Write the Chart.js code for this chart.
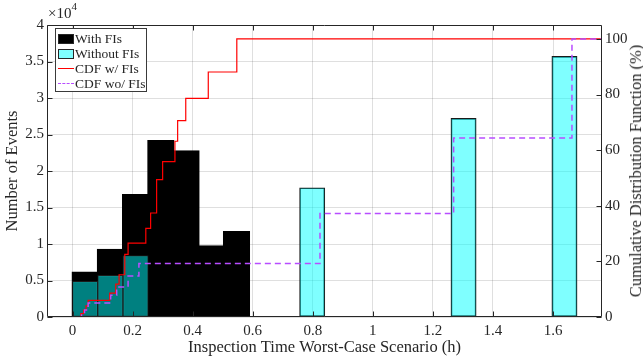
<!DOCTYPE html>
<html>
<head>
<meta charset="utf-8">
<script src="https://cdn.jsdelivr.net/npm/chart.js@4.4.1/dist/chart.umd.min.js"></script>
<style>
  html,body{margin:0;padding:0;background:#fff;overflow:hidden;}
  #wrap{position:relative;width:643px;height:362px;font-family:'Liberation Serif','Times New Roman',serif;color:#262626;}
  #c{position:absolute;left:0;top:0;}
  #exp{position:absolute;left:48px;top:6px;font-size:15px;line-height:15px;white-space:nowrap;}
  #exp sup{font-size:11px;position:relative;top:-2px;vertical-align:super;line-height:0;}
  #legend{position:absolute;left:55px;top:28px;width:90px;height:60px;border:1px solid #3a3a3a;background:#fff;padding-top:2px;box-sizing:content-box;}
  .row{position:relative;height:15px;font-size:13.5px;line-height:15px;white-space:nowrap;}
  .sw{position:absolute;left:2px;top:3px;width:14px;height:8px;}
  .ln{position:absolute;left:2px;top:7px;width:16px;height:0;}
  .tx{position:absolute;left:19px;top:0;}
  #rtitle{position:absolute;left:636px;top:171px;font-size:16.5px;white-space:nowrap;transform:translate(-50%,-50%) rotate(-90deg);}
</style>
</head>
<body>
<div id="wrap">
  <canvas id="c" width="643" height="362"></canvas>
  <div id="exp">×10<sup>4</sup></div>
  <div id="legend"></div>
  <div id="rtitle">Cumulative Distribution Function (%)</div>
</div>
<script>
// ---- data ----
const binWidth = 0.084;
const withFIsStarts = [0, 0.084, 0.168, 0.252, 0.336, 0.42, 0.504];
const withFIsCounts = [6100, 9200, 16700, 24100, 22700, 9700, 11650];
const withoutFIsStarts = [0, 0.084, 0.168, 0.756, 1.26, 1.596];
const withoutFIsCounts = [4900, 5700, 8400, 17700, 27200, 35700];

// CDF step positions (x where the curve jumps) and the level reached there (%)
const cdfWithX = [0.019, 0.028, 0.037, 0.045, 0.052, 0.124, 0.144, 0.155, 0.174, 0.185, 0.244, 0.26, 0.28, 0.30, 0.341, 0.35, 0.377, 0.452, 0.547, 1.763];
const cdfWithY = [0, 1.2, 2.5, 4, 6.0, 8.6, 11.8, 15.2, 22.5, 26.6, 31.9, 37.4, 49.4, 55.9, 63.2, 70.6, 78.6, 88.1, 100, 100];
const cdfWithoutX = [0.019, 0.03, 0.04, 0.052, 0.127, 0.147, 0.185, 0.221, 0.824, 1.269, 1.663, 1.763];
const cdfWithoutY = [0, 1, 2.5, 5.0, 7.8, 10.8, 14.7, 19.2, 37.2, 64.4, 100, 100];

const xTicks = [0, 0.2, 0.4, 0.6, 0.8, 1, 1.2, 1.4, 1.6];
const xTickLabels = ['0', '0.2', '0.4', '0.6', '0.8', '1', '1.2', '1.4', '1.6'];
const yTicks = [0, 5000, 10000, 15000, 20000, 25000, 30000, 35000, 40000];
const yTickLabels = ['0', '0.5', '1', '1.5', '2', '2.5', '3', '3.5', '4'];
const cdfTicks = [0, 20, 40, 60, 80, 100];
const cdfTickLabels = ['0', '20', '40', '60', '80', '100'];

const xRange = [-0.085, 1.763];
const yRange = [0, 40000];
const cdfRange = [0, 105];

// ---- styles ----
const AX = '#262626';
const GRID = 'rgba(38,38,38,0.15)';
const FONT = "'Liberation Serif','Times New Roman',serif";
Chart.defaults.font.family = FONT;
Chart.defaults.color = AX;

const datasets = [
  {
    type: 'bar', label: 'With FIs', order: 4, grouped: false,
    data: withFIsStarts.map((s, i) => ({x: s + binWidth / 2, y: withFIsCounts[i]})),
    backgroundColor: '#000000', borderColor: '#000000', borderWidth: 1, borderSkipped: false, inflateAmount: 1,
    barPercentage: 1, categoryPercentage: 1, xAxisID: 'x', yAxisID: 'y'
  },
  {
    type: 'bar', label: 'Without FIs', order: 3, grouped: false,
    data: withoutFIsStarts.map((s, i) => ({x: s + binWidth / 2, y: withoutFIsCounts[i]})),
    backgroundColor: 'rgba(0,255,255,0.5)', borderColor: '#1a1a1a', borderWidth: 1, borderSkipped: false,
    barPercentage: 1, categoryPercentage: 1, xAxisID: 'x', yAxisID: 'y'
  },
  {
    type: 'line', label: 'CDF w/ FIs', order: 2,
    data: cdfWithX.map((x, i) => ({x, y: cdfWithY[i]})),
    borderColor: '#ff0000', borderWidth: 1.2, pointRadius: 0, stepped: 'before', fill: false,
    xAxisID: 'x', yAxisID: 'y1'
  },
  {
    type: 'line', label: 'CDF wo/ FIs', order: 1,
    data: cdfWithoutX.map((x, i) => ({x, y: cdfWithoutY[i]})),
    borderColor: '#b84dff', borderWidth: 1.5, borderDash: [6, 4], pointRadius: 0, stepped: 'before', fill: false,
    xAxisID: 'x', yAxisID: 'y1'
  }
];

const frame = {
  id: 'frame',
  afterDatasetsDraw(chart) {
    const {ctx, chartArea: a, scales} = chart;
    const L = 5;
    ctx.save();
    ctx.strokeStyle = AX;
    ctx.lineWidth = 1;
    ctx.beginPath();
    ctx.rect(Math.round(a.left) + 0.5, Math.round(a.top) + 0.5, Math.round(a.right - a.left) - 1, Math.round(a.bottom - a.top) - 1);
    const bx = Math.round(a.bottom) - 0.5, tx = Math.round(a.top) + 0.5;
    const lx = Math.round(a.left) + 0.5, rx = Math.round(a.right) - 0.5;
    scales.x.ticks.forEach(t => {
      const p = Math.round(scales.x.getPixelForValue(t.value)) + 0.5;
      ctx.moveTo(p, bx); ctx.lineTo(p, bx - L);
      ctx.moveTo(p, tx); ctx.lineTo(p, tx + L);
    });
    scales.y.ticks.forEach(t => {
      const p = Math.round(scales.y.getPixelForValue(t.value)) + 0.5;
      ctx.moveTo(lx, p); ctx.lineTo(lx + L, p);
    });
    scales.y1.ticks.forEach(t => {
      const p = Math.round(scales.y1.getPixelForValue(t.value)) + 0.5;
      ctx.moveTo(rx, p); ctx.lineTo(rx - L, p);
    });
    ctx.stroke();
    ctx.restore();
  }
};

const chart = new Chart(document.getElementById('c'), {
  data: {datasets},
  options: {
    responsive: false, animation: false, devicePixelRatio: 1,
    layout: {padding: {top: 25, left: 0, right: 0, bottom: 0}},
    plugins: {legend: {display: false}, tooltip: {enabled: false}},
    scales: {
      x: {
        type: 'linear', position: 'bottom', min: xRange[0], max: xRange[1], offset: false,
        afterBuildTicks: s => { s.ticks = xTicks.map(v => ({value: v})); },
        afterFit: s => { s.height = 45; },
        ticks: {callback: (v) => xTickLabels[xTicks.indexOf(v)] ?? '', font: {size: 15}, padding: 5, maxRotation: 0, autoSkip: false},
        grid: {color: GRID, drawTicks: false, offset: false},
        border: {display: false},
        title: {display: true, text: 'Inspection Time Worst-Case Scenario (h)', font: {size: 16.5}, padding: {top: 0, bottom: 4}}
      },
      y: {
        type: 'linear', position: 'left', min: yRange[0], max: yRange[1],
        afterBuildTicks: s => { s.ticks = yTicks.map(v => ({value: v})); },
        afterFit: s => { s.width = 47; },
        ticks: {callback: (v) => yTickLabels[yTicks.indexOf(v)] ?? '', font: {size: 15}, padding: 3, autoSkip: false},
        grid: {color: GRID, drawTicks: false},
        border: {display: false},
        title: {display: true, text: 'Number of Events', font: {size: 16.5}, padding: {top: 3, bottom: 0}}
      },
      y1: {
        type: 'linear', position: 'right', min: cdfRange[0], max: cdfRange[1],
        afterBuildTicks: s => { s.ticks = cdfTicks.map(v => ({value: v})); },
        afterFit: s => { s.width = 41; },
        ticks: {callback: (v) => cdfTickLabels[cdfTicks.indexOf(v)] ?? '', font: {size: 15}, padding: 3, autoSkip: false},
        grid: {display: false, drawTicks: false},
        border: {display: false}
      }
    }
  },
  plugins: [frame]
});

// HTML legend built from the datasets
const leg = document.getElementById('legend');
[datasets[0], datasets[1], datasets[2], datasets[3]].forEach(ds => {
  const row = document.createElement('div');
  row.className = 'row';
  let sw;
  if (ds.type === 'bar') {
    sw = document.createElement('div');
    sw.className = 'sw';
    sw.style.background = ds.backgroundColor;
    sw.style.border = '1px solid ' + AX;
  } else {
    sw = document.createElement('div');
    sw.className = 'ln';
    sw.style.borderTop = (ds.borderDash ? '1.5px dashed ' : '1.2px solid ') + ds.borderColor;
  }
  const tx = document.createElement('span');
  tx.className = 'tx';
  tx.textContent = ds.label;
  row.appendChild(sw); row.appendChild(tx);
  leg.appendChild(row);
});
</script>
</body>
</html>
